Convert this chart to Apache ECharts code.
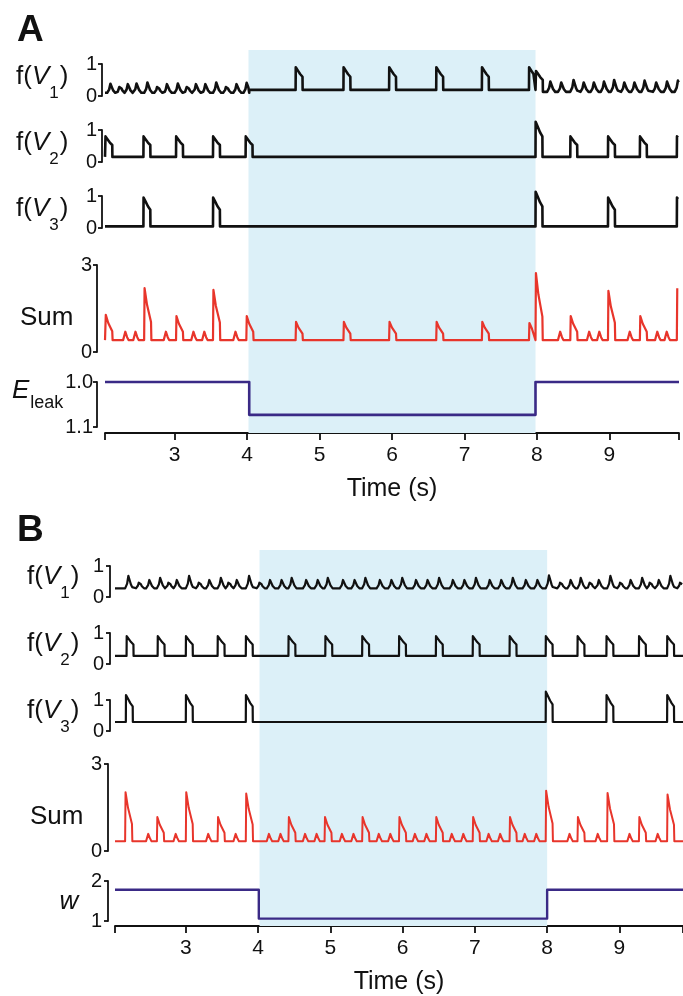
<!DOCTYPE html>
<html>
<head>
<meta charset="utf-8">
<script src="https://cdn.jsdelivr.net/npm/echarts@6/dist/echarts.min.js"></script>
<style>
  html, body { margin: 0; padding: 0; background: #fff; }
  #chart { width: 683px; height: 996px; }
</style>
</head>
<body>
<div id="chart"></div>
<script>
// ---------------------------------------------------------------
// Time windows (s) and light-stimulus periods
// ---------------------------------------------------------------
const A_range = [2.04, 9.96];
const B_range = [2.02, 9.88];
const A_light = [4.02, 7.98];
const B_light = [4.02, 8.0];
const timeTicks = [3, 4, 5, 6, 7, 8, 9];

// ---------------------------------------------------------------
// Panel A  (E_leak manipulation)
// baseline levels: [from time, level]; events: [time, peak value]
// ---------------------------------------------------------------
const A_v1Levels = [[2.04, 0.10], [4.03, 0.19], [7.98, 0.13]];
const A_v1Wiggles = [
  [2.07, 0.38], [2.20, 0.34], [2.31, 0.37], [2.43, 0.39], [2.58, 0.42],
  [2.72, 0.34], [2.85, 0.37], [3.00, 0.39], [3.13, 0.34], [3.25, 0.37],
  [3.38, 0.37], [3.53, 0.42], [3.67, 0.34], [3.81, 0.37], [3.95, 0.41],
  [8.14, 0.45], [8.29, 0.42], [8.46, 0.50], [8.60, 0.42], [8.74, 0.42],
  [8.88, 0.45], [9.02, 0.50], [9.16, 0.42], [9.30, 0.42], [9.44, 0.48],
  [9.60, 0.42], [9.75, 0.45], [9.90, 0.48]
];
const A_v1Spikes = [
  [4.67, 0.90], [5.33, 0.90], [5.96, 0.90], [6.61, 0.90], [7.24, 0.90],
  [7.89, 0.90], [7.985, 0.78]
];
const A_v2Levels = [[2.04, 0.16]];
const A_v2Spikes = [
  [2.045, 0.80], [2.57, 0.80], [3.02, 0.80], [3.53, 0.80], [3.98, 0.80],
  [7.98, 1.26], [8.46, 0.80], [8.98, 0.80], [9.42, 0.80], [9.93, 0.80]
];
const A_v3Levels = [[2.04, 0.05]];
const A_v3Spikes = [
  [2.57, 0.95], [3.53, 0.95], [7.98, 1.13], [8.98, 0.95], [9.93, 0.95]
];
const A_sumLevels = [[2.04, 0.41]];
const A_sumPeaks = [
  [2.045, 1.28], [2.58, 2.20], [3.02, 1.24], [3.53, 2.14], [3.99, 1.24],
  [4.67, 1.04], [5.33, 1.04], [5.96, 1.04], [6.61, 1.04], [7.24, 1.04],
  [7.89, 1.00], [7.98, 2.72], [8.46, 1.24], [8.98, 2.11], [9.42, 1.24],
  [9.93, 2.20]
];
const A_sumBumps = [
  [2.29, 0.70], [2.43, 0.70], [2.85, 0.70], [3.23, 0.70], [3.38, 0.70],
  [3.81, 0.70], [8.29, 0.70], [8.69, 0.70], [8.83, 0.70], [9.25, 0.70],
  [9.63, 0.70], [9.76, 0.70]
];
const A_eleak = [[2.04, 1.0], [4.03, 1.073], [7.98, 1.0], [9.96, 1.0]];

// ---------------------------------------------------------------
// Panel B  (w manipulation)
// ---------------------------------------------------------------
const B_v1Levels = [[2.02, 0.28]];
const B_v1Wiggles = [
  [2.16, 0.68], [2.31, 0.52], [2.45, 0.55], [2.60, 0.62], [2.72, 0.52],
  [2.83, 0.55], [3.00, 0.68], [3.14, 0.52], [3.28, 0.55], [3.44, 0.62],
  [3.55, 0.52], [3.66, 0.55], [3.83, 0.68], [3.98, 0.52], [4.12, 0.55],
  [4.28, 0.55], [4.42, 0.62], [4.62, 0.55], [4.78, 0.55], [4.92, 0.62],
  [5.13, 0.55], [5.29, 0.55], [5.44, 0.62], [5.64, 0.55], [5.80, 0.55],
  [5.95, 0.62], [6.14, 0.55], [6.30, 0.55], [6.46, 0.62], [6.65, 0.55],
  [6.81, 0.55], [6.97, 0.62], [7.16, 0.55], [7.32, 0.55], [7.48, 0.62],
  [7.66, 0.55], [7.82, 0.55], [7.98, 0.70], [8.14, 0.52], [8.28, 0.55],
  [8.42, 0.62], [8.55, 0.52], [8.67, 0.55], [8.83, 0.68], [8.97, 0.52],
  [9.11, 0.55], [9.27, 0.62], [9.38, 0.52], [9.50, 0.55], [9.66, 0.68],
  [9.80, 0.52]
];
const B_v2Levels = [[2.02, 0.26]];
const B_v2Spikes = [
  [2.18, 0.90], [2.61, 0.90], [3.00, 0.90], [3.44, 0.90], [3.83, 0.90],
  [4.42, 0.90], [4.93, 0.90], [5.44, 0.90], [5.95, 0.90], [6.46, 0.90],
  [6.97, 0.90], [7.48, 0.90], [7.98, 0.90], [8.42, 0.90], [8.82, 0.90],
  [9.27, 0.90], [9.66, 0.90]
];
const B_v3Levels = [[2.02, 0.29]];
const B_v3Spikes = [
  [2.17, 1.16], [3.00, 1.16], [3.83, 1.16], [7.98, 1.27], [8.82, 1.16],
  [9.66, 1.16]
];
const B_sumLevels = [[2.02, 0.34]];
const B_sumPeaks = [
  [2.16, 2.03], [2.60, 1.17], [3.00, 2.03], [3.44, 1.17], [3.83, 1.98],
  [4.42, 1.17], [4.92, 1.17], [5.44, 1.17], [5.95, 1.17], [6.46, 1.17],
  [6.97, 1.17], [7.48, 1.17], [7.98, 2.08], [8.42, 1.17], [8.83, 2.00],
  [9.27, 1.17], [9.66, 1.95]
];
const B_sumBumps = [
  [2.45, 0.59], [2.83, 0.59], [3.28, 0.59], [3.66, 0.59], [4.12, 0.59],
  [4.28, 0.59], [4.62, 0.59], [4.78, 0.59], [5.13, 0.59], [5.29, 0.59],
  [5.64, 0.59], [5.80, 0.59], [6.14, 0.59], [6.30, 0.59], [6.65, 0.59],
  [6.81, 0.59], [7.16, 0.59], [7.32, 0.59], [7.66, 0.59], [7.82, 0.59],
  [8.28, 0.59], [8.67, 0.59], [9.11, 0.59], [9.50, 0.59]
];
const B_w = [[2.02, 1.78], [4.01, 1.06], [8.0, 1.78], [9.88, 1.78]];

// ---------------------------------------------------------------
// Waveform templates: [time offset (s), fraction of height above baseline]
// ---------------------------------------------------------------
const SHAPES = {
  pulse:  [[0, 0], [0.002, 1], [0.016, 0.95], [0.034, 0.84], [0.062, 0.70], [0.095, 0.58], [0.097, 0]],
  wiggle: [[0, 0], [0.015, 0.12], [0.028, 0.38], [0.038, 0.75], [0.045, 1], [0.055, 0.85],
           [0.068, 0.55], [0.082, 0.28], [0.097, 0.1], [0.112, 0]],
  spike:  [[0, 0], [0.006, 1], [0.04, 0.68], [0.095, 0.35], [0.10, 0]],
  bump:   [[0, 0], [0.03, 1], [0.055, 0.35], [0.075, 0]]
};

function levelAt(levels, t) {
  let v = levels[0][1];
  for (const [t0, l] of levels) if (t >= t0) v = l;
  return v;
}

// Turn baseline levels and event lists into a polyline
function buildTrace(range, levels, groups) {
  const ev = [];
  groups.forEach(([list, shape]) =>
    list.forEach(([t, peak]) => ev.push({ t, peak, shape: SHAPES[shape] })));
  levels.slice(1).forEach(([t]) => ev.push({ t, step: true }));
  ev.sort((a, b) => a.t - b.t);
  const pts = [[range[0], levelAt(levels, range[0])]];
  let cutAtEnd = false;
  ev.forEach((e, i) => {
    const next = i + 1 < ev.length ? ev[i + 1].t : Infinity;
    if (e.step) {
      pts.push([e.t, levelAt(levels, e.t - 1e-9)]);
      pts.push([e.t, levelAt(levels, e.t)]);
      return;
    }
    const b = levelAt(levels, e.t);
    for (const [dt, f] of e.shape) {
      const t = e.t + dt;
      if (t > range[1]) { cutAtEnd = true; break; }
      if (t >= next) break;
      pts.push([t, b + f * (e.peak - b)]);
    }
  });
  if (!cutAtEnd && pts[pts.length - 1][0] < range[1]) {
    pts.push([range[1], levelAt(levels, range[1])]);
  }
  return pts;
}

// ---------------------------------------------------------------
// Styling
// ---------------------------------------------------------------
const FONT = "'Liberation Sans', Arial, Helvetica, sans-serif";
const INK = '#111111';
const RED = '#e8352b';
const INDIGO = '#3a2a86';
const SHADE = '#dcf0f8';

const grids = [], xAxes = [], yAxes = [], series = [];

function addBackground(left, width, top, height, range, light) {
  const gi = grids.length;
  grids.push({ left, width, top, height });
  xAxes.push({
    gridIndex: gi, type: 'value', min: range[0], max: range[1],
    axisLine: { show: true, lineStyle: { color: INK, width: 1.8 } },
    axisTick: { show: true, customValues: [range[0]].concat(timeTicks, [range[1]]),
                length: 7, lineStyle: { color: INK, width: 1.8 } },
    axisLabel: { customValues: timeTicks, fontFamily: FONT, fontSize: 21, color: INK, margin: 12 },
    splitLine: { show: false },
    name: 'Time (s)', nameLocation: 'middle', nameGap: 44,
    nameTextStyle: { fontFamily: FONT, fontSize: 25, color: INK }
  });
  yAxes.push({ gridIndex: gi, type: 'value', min: 0, max: 1, show: false });
  series.push({
    type: 'line', xAxisIndex: gi, yAxisIndex: gi, data: [], z: 0, silent: true,
    markArea: { silent: true, itemStyle: { color: SHADE }, data: [[{ xAxis: light[0] }, { xAxis: light[1] }]] }
  });
}

function addPanel(opts) {
  const gi = grids.length;
  grids.push({ left: opts.left, width: opts.width, top: opts.top, height: opts.height });
  xAxes.push({ gridIndex: gi, type: 'value', min: opts.range[0], max: opts.range[1], show: false });
  yAxes.push({
    gridIndex: gi, type: 'value', min: opts.min, max: opts.max, interval: opts.max - opts.min,
    inverse: !!opts.inverse, offset: opts.offset,
    axisLine: { show: true, lineStyle: { color: INK, width: 1.8 } },
    axisTick: { show: true, length: 4, lineStyle: { color: INK, width: 1.8 } },
    axisLabel: { fontFamily: FONT, fontSize: 20, color: INK, margin: opts.labelMargin,
                 formatter: opts.fmt || (v => String(Math.round(v))) },
    splitLine: { show: false }
  });
  series.push({
    type: 'line', xAxisIndex: gi, yAxisIndex: gi, data: opts.data,
    step: opts.step || false, showSymbol: false, symbol: 'none', clip: false, z: 3,
    silent: true, animation: false,
    lineStyle: { color: opts.color, width: opts.lineWidth, join: 'round' }
  });
}

// ---- Panel A ----
const AL = 105, AW = 574;
addBackground(AL, AW, 50, 383, A_range, A_light);
addPanel({ left: AL, width: AW, top: 64, height: 32, range: A_range, min: 0, max: 1, offset: 3, labelMargin: 5,
  color: INK, lineWidth: 2.6, data: buildTrace(A_range, A_v1Levels, [[A_v1Wiggles, 'wiggle'], [A_v1Spikes, 'pulse']]) });
addPanel({ left: AL, width: AW, top: 130, height: 32, range: A_range, min: 0, max: 1, offset: 3, labelMargin: 5,
  color: INK, lineWidth: 2.6, data: buildTrace(A_range, A_v2Levels, [[A_v2Spikes, 'pulse']]) });
addPanel({ left: AL, width: AW, top: 196, height: 32, range: A_range, min: 0, max: 1, offset: 3, labelMargin: 5,
  color: INK, lineWidth: 2.6, data: buildTrace(A_range, A_v3Levels, [[A_v3Spikes, 'pulse']]) });
addPanel({ left: AL, width: AW, top: 265, height: 87, range: A_range, min: 0, max: 3, offset: 8, labelMargin: 5,
  color: RED, lineWidth: 2.2, data: buildTrace(A_range, A_sumLevels, [[A_sumPeaks, 'spike'], [A_sumBumps, 'bump']]) });
addPanel({ left: AL, width: AW, top: 382, height: 45, range: A_range, min: 1.0, max: 1.1, inverse: true,
  offset: 8, labelMargin: 4, fmt: v => v.toFixed(1),
  color: INDIGO, lineWidth: 2.6, step: 'end', data: A_eleak });

// ---- Panel B ----
const BL = 115, BW = 569;
addBackground(BL, BW, 550, 383, B_range, B_light);
addPanel({ left: BL, width: BW, top: 566, height: 31, range: B_range, min: 0, max: 1, offset: 5, labelMargin: 6,
  color: INK, lineWidth: 2.2, data: buildTrace(B_range, B_v1Levels, [[B_v1Wiggles, 'wiggle']]) });
addPanel({ left: BL, width: BW, top: 633, height: 31, range: B_range, min: 0, max: 1, offset: 5, labelMargin: 6,
  color: INK, lineWidth: 2.2, data: buildTrace(B_range, B_v2Levels, [[B_v2Spikes, 'pulse']]) });
addPanel({ left: BL, width: BW, top: 700, height: 31, range: B_range, min: 0, max: 1, offset: 5, labelMargin: 6,
  color: INK, lineWidth: 2.2, data: buildTrace(B_range, B_v3Levels, [[B_v3Spikes, 'pulse']]) });
addPanel({ left: BL, width: BW, top: 764, height: 87, range: B_range, min: 0, max: 3, offset: 7, labelMargin: 6,
  color: RED, lineWidth: 2.0, data: buildTrace(B_range, B_sumLevels, [[B_sumPeaks, 'spike'], [B_sumBumps, 'bump']]) });
addPanel({ left: BL, width: BW, top: 881, height: 40, range: B_range, min: 1, max: 2, offset: 7, labelMargin: 6,
  color: INDIGO, lineWidth: 2.4, step: 'end', data: B_w });

// ---------------------------------------------------------------
// Row labels
// ---------------------------------------------------------------
function fvLabel(x, y, idx) {
  return {
    type: 'text', x, y, silent: true,
    style: {
      text: '{a|f(}{v|V}{s|' + idx + '}{a|)}',
      verticalAlign: 'top', align: 'left',
      rich: {
        a: { fontFamily: FONT, fontSize: 26, lineHeight: 28, verticalAlign: 'top', fill: INK },
        v: { fontFamily: FONT, fontSize: 26, lineHeight: 28, verticalAlign: 'top', fontStyle: 'italic', fill: INK },
        s: { fontFamily: FONT, fontSize: 17, lineHeight: 17, verticalAlign: 'top', padding: [21, 1, 0, 0], fill: INK }
      }
    }
  };
}
function plain(x, y, text, size, extra) {
  return { type: 'text', x, y, silent: true,
    style: Object.assign({ text, fontFamily: FONT, fontSize: size, fill: INK, align: 'left', verticalAlign: 'middle' }, extra || {}) };
}

const graphics = [
  plain(17, 31, 'A', 37, { fontWeight: 'bold' }),
  fvLabel(16, 64, 1), fvLabel(16, 130, 2), fvLabel(16, 196, 3),
  plain(20, 318, 'Sum', 26),
  {
    type: 'text', x: 12, y: 378, silent: true,
    style: {
      text: '{e|E}{s|leak}', verticalAlign: 'top', align: 'left',
      rich: {
        e: { fontFamily: FONT, fontSize: 26, lineHeight: 28, verticalAlign: 'top', fontStyle: 'italic', fill: INK },
        s: { fontFamily: FONT, fontSize: 18, lineHeight: 18, verticalAlign: 'top', padding: [16, 0, 0, 1], fill: INK }
      }
    }
  },
  plain(17, 531, 'B', 37, { fontWeight: 'bold' }),
  fvLabel(27, 564, 1), fvLabel(27, 631, 2), fvLabel(27, 698, 3),
  plain(30, 817, 'Sum', 26),
  plain(69, 902, 'w', 26, { fontStyle: 'italic', align: 'center' })
];

const chart = echarts.init(document.getElementById('chart'), null, { renderer: 'canvas' });
chart.setOption({
  animation: false,
  backgroundColor: '#ffffff',
  grid: grids,
  xAxis: xAxes,
  yAxis: yAxes,
  series: series,
  graphic: graphics
});
</script>
</body>
</html>
